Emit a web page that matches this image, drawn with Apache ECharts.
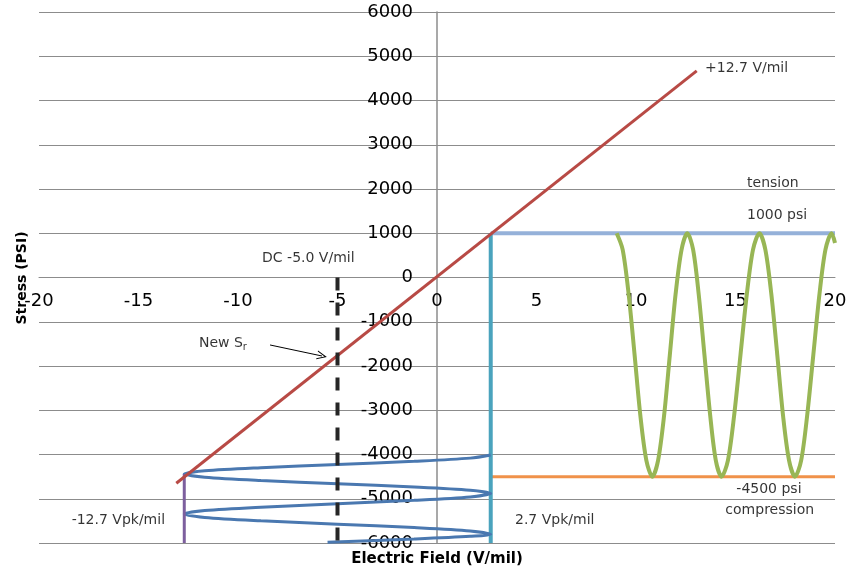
<!DOCTYPE html>
<html>
<head>
<meta charset="utf-8">
<title>Stress vs Electric Field</title>
<script src="https://cdn.jsdelivr.net/npm/echarts@6/dist/echarts.min.js"></script>
<style>
  html, body { margin: 0; padding: 0; background: #fff; }
  #chart { width: 851px; height: 575px; }
</style>
</head>
<body>
<div id="chart"></div>
<script>
  // axis ranges
  const xRange = [-20, 20];
  const xStep = 5;
  const yRange = [-6000, 6000];
  const yStep = 1000;

  // straight lines (x values / y values)
  const fieldLineX = [-13.1, 13.05];
  const fieldLineY = [-4650, 4670];
  const tensionX = [2.7, 20];
  const tensionY = [1000, 1000];
  const compressionX = [2.7, 20];
  const compressionY = [-4500, -4500];
  const posPeakX = [2.7, 2.7];
  const posPeakY = [1000, -6000];
  const negPeakX = [-12.7, -12.7];
  const negPeakY = [-4440, -6000];
  const dcX = [-5, -5];
  const dcY = [0, -6000];

  // sideways wave (field swing)
  const fieldWaveX = [
    2.7, 1.67, -1.15, -5, -8.85, -11.67, -12.7,
    -11.67, -8.85, -5, -1.15, 1.67, 2.7,
    1.67, -1.15, -5, -8.85, -11.67, -12.7,
    -11.67, -8.85, -5, -1.15, 1.67, 2.7,
    1.67, -1.15, -5.5,
  ];
  const fieldWaveY = [
    -4010, -4082, -4153, -4225, -4297, -4368, -4440,
    -4513, -4587, -4660, -4733, -4807, -4880,
    -4958, -5035, -5113, -5190, -5268, -5345,
    -5422, -5498, -5575, -5652, -5728, -5805,
    -5850, -5910, -5985,
  ];

  // stress wave between +1000 and -4500 psi
  const stressWaveX = [
    9.03, 9.33, 9.63, 9.93, 10.22, 10.52, 10.82,
    11.11, 11.41, 11.7, 11.99, 12.29, 12.58,
    12.87, 13.15, 13.44, 13.73, 14.01, 14.3,
    14.62, 14.93, 15.25, 15.57, 15.88, 16.2,
    16.5, 16.8, 17.1, 17.39, 17.69, 17.99,
    18.3, 18.6, 18.91, 19.22, 19.52, 19.83,
    20,
  ];
  const stressWaveY = [
    1000, 631, -375, -1750, -3125, -4131, -4500,
    -4131, -3125, -1750, -375, 631, 1000,
    631, -375, -1750, -3125, -4131, -4500,
    -4131, -3125, -1750, -375, 631, 1000,
    631, -375, -1750, -3125, -4131, -4500,
    -4131, -3125, -1750, -375, 631, 1000,
    780,
  ];

  // text notes
  const noteText = ['+12.7 V/mil', 'tension', '1000 psi', 'DC -5.0 V/mil', '{a|New S}{b|r}',
    '-12.7 Vpk/mil', '2.7 Vpk/mil', '-4500 psi', 'compression'];
  const noteX = [13.47, 15.58, 15.58, -8.79, -11.96, -18.36, 3.92, 16.68, 16.72];
  const noteY = [4734, 2136, 1412, 441, -1480, -5480, -5480, -4780, -5254];
  const noteAlign = ['left', 'left', 'left', 'left', 'left', 'left', 'left', 'center', 'center'];

  const arrowFrom = [-8.39, -1525];
  const arrowTo = [-5.78, -1774];

  // plot box in pixels, axes cross at 0/0 inside it
  const plot = { left: 39, right: 16, top: 12, bottom: 32 };
  const plotW = 851 - plot.left - plot.right;
  const plotH = 575 - plot.top - plot.bottom;
  const yAxisShift = plotW * (0 - xRange[0]) / (xRange[1] - xRange[0]);
  const xAxisShift = plotH * (0 - yRange[0]) / (yRange[1] - yRange[0]);

  const font = 'DejaVu Sans';
  const gridColor = '#8c8c8c';

  const pairs = (xs, ys) => xs.map((x, i) => [x, ys[i]]);

  const lineSeries = (name, xs, ys, color, width, extra) =>
    Object.assign({
      name,
      type: 'line',
      data: pairs(xs, ys),
      showSymbol: false,
      symbol: 'none',
      lineStyle: { color, width },
    }, extra || {});

  const chart = echarts.init(document.getElementById('chart'));

  chart.setOption({
    animation: false,
    grid: Object.assign({ containLabel: false, outerBoundsMode: 'none' }, plot),
    xAxis: {
      type: 'value',
      min: xRange[0],
      max: xRange[1],
      interval: xStep,
      position: 'bottom',
      offset: -xAxisShift,
      axisLine: { onZero: false, lineStyle: { color: gridColor, width: 1 } },
      axisTick: { show: false },
      splitLine: { show: false },
      axisLabel: {
        fontFamily: font, fontSize: 18, color: '#000', margin: 15,
        formatter: (v) => String(v),
      },
    },
    yAxis: {
      type: 'value',
      min: yRange[0],
      max: yRange[1],
      interval: yStep,
      position: 'left',
      offset: -yAxisShift,
      axisLine: { show: true, onZero: false, lineStyle: { color: gridColor, width: 1.5 } },
      axisTick: { show: false },
      splitLine: { show: true, lineStyle: { color: gridColor, width: 1 } },
      axisLabel: {
        fontFamily: font, fontSize: 18, color: '#000', margin: 24,
        formatter: (v) => String(v),
      },
    },
    graphic: [
      {
        type: 'text',
        x: 437,
        y: 559,
        style: {
          text: 'Electric Field (V/mil)',
          font: 'bold 15px "DejaVu Sans"',
          fill: '#000',
          align: 'center',
          verticalAlign: 'middle',
        },
      },
      {
        type: 'text',
        x: 22,
        y: 278,
        rotation: Math.PI / 2,
        style: {
          text: 'Stress (PSI)',
          font: 'bold 14px "DejaVu Sans"',
          fill: '#000',
          align: 'center',
          verticalAlign: 'middle',
        },
      },
    ],
    series: [
      lineSeries('tension', tensionX, tensionY, '#95b1d9', 4),
      lineSeries('compression', compressionX, compressionY, '#f0924a', 3),
      lineSeries('stress wave', stressWaveX, stressWaveY, '#98b655', 4, { smooth: 0.3 }),
      lineSeries('+2.7 peak', posPeakX, posPeakY, '#4aa3bd', 4),
      lineSeries('field wave', fieldWaveX, fieldWaveY, '#4a78b0', 3, { smooth: 0.3 }),
      lineSeries('-12.7 peak', negPeakX, negPeakY, '#7d5f9e', 3),
      lineSeries('field line', fieldLineX, fieldLineY, '#b84a45', 3),
      lineSeries('DC bias', dcX, dcY, '#262626', 4, {
        lineStyle: { color: '#262626', width: 4, type: [13, 12] },
      }),
      {
        name: 'notes',
        type: 'scatter',
        symbolSize: 0,
        silent: true,
        data: noteText.map((t, i) => ({
          value: [noteX[i], noteY[i]],
          label: {
            show: true,
            formatter: t,
            position: noteAlign[i] === 'center' ? 'inside' : 'right',
            distance: 0,
            fontFamily: font,
            fontSize: 14,
            color: '#000',
            rich: {
              a: { fontFamily: font, fontSize: 14, color: '#000' },
              b: { fontFamily: font, fontSize: 10, color: '#000', verticalAlign: 'bottom', padding: [8, 0, 0, 0] },
            },
          },
        })),
        markLine: {
          silent: true,
          symbol: ['none', 'path://M0,10 L5,0 L10,10 L8.8,10 L5,2.5 L1.2,10 Z'],
          symbolSize: [9, 10],
          label: { show: false },
          lineStyle: { color: '#000', width: 1, type: 'solid' },
          data: [[{ coord: arrowFrom }, { coord: arrowTo }]],
        },
      },
    ],
  });
</script>
</body>
</html>
